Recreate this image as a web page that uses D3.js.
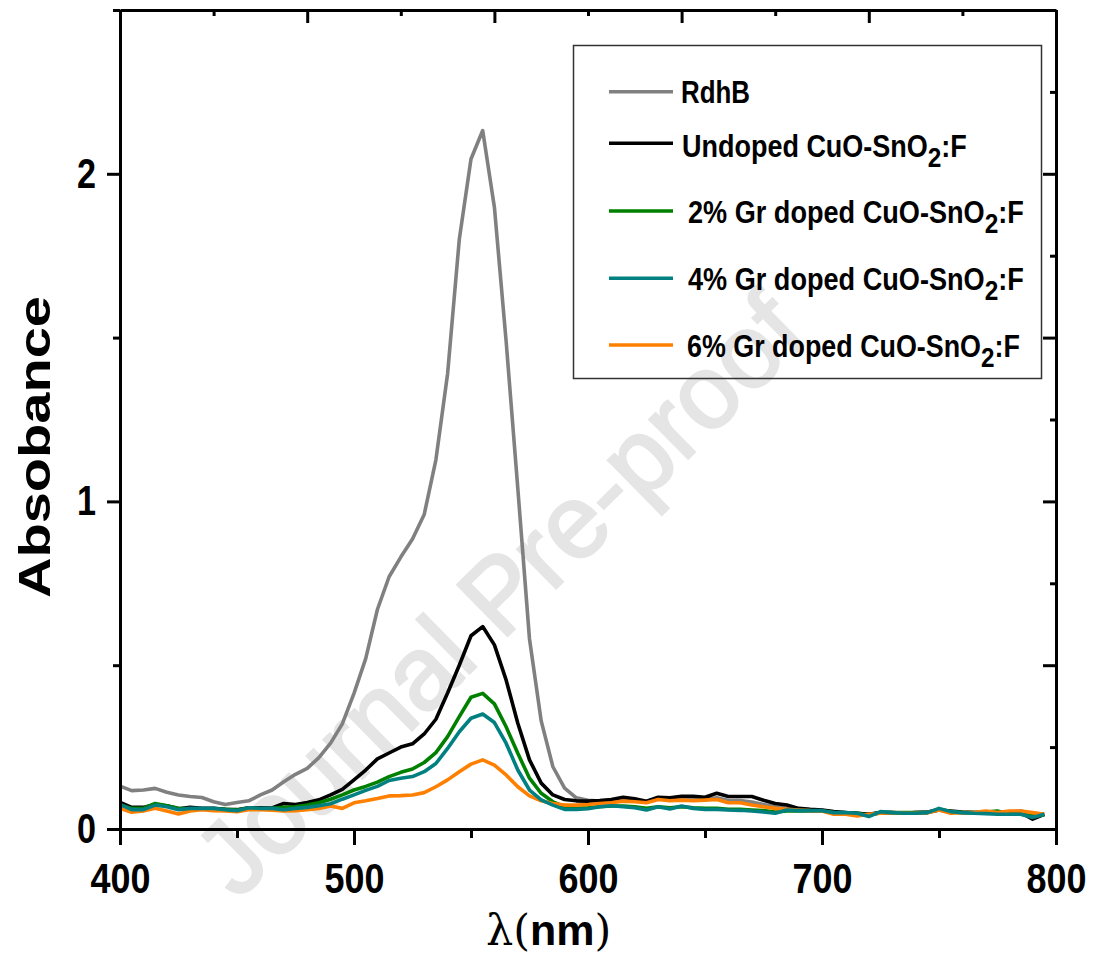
<!DOCTYPE html>
<html>
<head>
<meta charset="utf-8">
<script src="https://cdn.jsdelivr.net/npm/d3@7"></script>
<style>
  html, body { margin: 0; padding: 0; background: #fff; }
  svg { display: block; }
  text { font-family: "Liberation Sans", Arial, sans-serif; font-weight: bold; }
</style>
</head>
<body>
<svg id="chart" width="1099" height="961"></svg>
<script>
// Wavelength grid (nm)
const wavelengths = [
  400,405,410,415,420,425,430,435,440,445,450,455,460,465,470,475,480,485,490,495,
  500,505,510,515,520,525,530,535,540,545,550,555,560,565,570,575,580,585,590,595,
  600,605,610,615,620,625,630,635,640,645,650,655,660,665,670,675,680,685,690,695,
  700,705,710,715,720,725,730,735,740,745,750,755,760,765,770,775,780,785,790,795
];

// Absorbance of each sample
const rdhB = [
  0.131,0.117,0.119,0.124,0.112,0.104,0.099,0.096,0.083,0.075,0.081,0.086,0.104,0.119,0.144,0.167,0.185,0.218,0.262,0.321,
  0.414,0.52,0.67,0.77,0.83,0.885,0.96,1.127,1.39,1.80,2.045,2.132,1.898,1.49,1.04,0.58,0.33,0.19,0.125,0.095,
  0.088,0.085,0.088,0.092,0.088,0.083,0.092,0.09,0.093,0.093,0.09,0.095,0.087,0.087,0.082,0.075,0.068,0.063,0.06,0.058,
  0.057,0.05,0.05,0.048,0.045,0.05,0.05,0.048,0.05,0.05,0.058,0.052,0.05,0.05,0.05,0.048,0.052,0.055,0.045,0.045
];
const undoped = [
  0.081,0.066,0.066,0.075,0.071,0.062,0.066,0.063,0.063,0.06,0.059,0.065,0.065,0.064,0.078,0.075,0.081,0.089,0.104,0.121,
  0.15,0.18,0.214,0.232,0.25,0.26,0.29,0.335,0.415,0.5,0.59,0.618,0.562,0.455,0.323,0.211,0.14,0.104,0.09,0.086,
  0.085,0.087,0.09,0.097,0.092,0.085,0.097,0.095,0.1,0.1,0.097,0.109,0.099,0.099,0.099,0.088,0.078,0.073,0.063,0.06,
  0.058,0.053,0.05,0.048,0.045,0.05,0.05,0.048,0.05,0.052,0.058,0.055,0.052,0.05,0.05,0.048,0.05,0.05,0.03,0.045
];
const gr2 = [
  0.073,0.063,0.063,0.078,0.071,0.063,0.062,0.061,0.061,0.06,0.058,0.064,0.062,0.063,0.066,0.068,0.073,0.08,0.091,0.104,
  0.119,0.13,0.143,0.16,0.173,0.183,0.203,0.233,0.282,0.343,0.402,0.414,0.382,0.312,0.231,0.155,0.109,0.083,0.068,0.063,
  0.065,0.068,0.07,0.07,0.068,0.063,0.068,0.065,0.068,0.065,0.063,0.063,0.06,0.06,0.058,0.056,0.052,0.055,0.055,0.055,
  0.055,0.05,0.048,0.048,0.042,0.05,0.05,0.05,0.05,0.05,0.06,0.053,0.05,0.05,0.052,0.055,0.045,0.045,0.04,0.043
];
const gr4 = [
  0.075,0.059,0.059,0.073,0.068,0.059,0.063,0.063,0.063,0.059,0.056,0.065,0.063,0.063,0.059,0.063,0.066,0.071,0.077,0.091,
  0.104,0.118,0.13,0.148,0.155,0.16,0.175,0.2,0.246,0.297,0.338,0.351,0.325,0.262,0.18,0.119,0.089,0.073,0.06,0.06,
  0.062,0.068,0.071,0.068,0.065,0.058,0.068,0.061,0.07,0.063,0.06,0.06,0.058,0.057,0.055,0.052,0.048,0.058,0.056,0.056,
  0.056,0.05,0.05,0.048,0.038,0.053,0.05,0.048,0.048,0.05,0.063,0.053,0.05,0.048,0.047,0.045,0.045,0.045,0.035,0.045
];
const gr6 = [
  0.063,0.051,0.055,0.063,0.055,0.046,0.055,0.059,0.056,0.055,0.053,0.059,0.059,0.057,0.055,0.056,0.059,0.063,0.07,0.063,
  0.08,0.086,0.093,0.101,0.102,0.104,0.111,0.129,0.15,0.175,0.198,0.211,0.195,0.165,0.129,0.101,0.086,0.078,0.073,0.073,
  0.075,0.078,0.08,0.085,0.083,0.08,0.09,0.086,0.088,0.086,0.088,0.09,0.08,0.08,0.073,0.068,0.063,0.06,0.058,0.056,
  0.055,0.045,0.045,0.04,0.045,0.048,0.05,0.048,0.048,0.05,0.058,0.048,0.05,0.05,0.055,0.05,0.055,0.055,0.05,0.045
];

const seriesNames = ["RdhB", "Undoped CuO-SnO2:F", "2% Gr doped CuO-SnO2:F", "4% Gr doped CuO-SnO2:F", "6% Gr doped CuO-SnO2:F"];
const seriesColors = ["#808080", "#000000", "#008000", "#008080", "#ff8000"];
const seriesValues = [rdhB, undoped, gr2, gr4, gr6];

const xTicks = [400, 500, 600, 700, 800];
const xMinorTicks = [450, 550, 650, 750];
const yTicks = [0, 1, 2];
const yMinorTicks = [0.5, 1.5, 2.5];
const topTicks = [400, 480, 560, 640, 720, 800];
const topMinorTicks = [440, 520, 600, 680, 760];
const rightTicks = [0.5, 1, 1.5, 2];
const rightMinorTicks = [0.25, 0.75, 1.25, 1.75, 2.25];

const svg = d3.select("#chart");
const x = d3.scaleLinear().domain([400, 800]).range([120, 1056]);
const y = d3.scaleLinear().domain([0, 2.5]).range([829, 10]);

// Watermark
svg.append("text")
  .attr("transform", "translate(505,600) rotate(-44.5)")
  .attr("text-anchor", "middle")
  .attr("dominant-baseline", "middle")
  .style("font-weight", "normal")
  .style("font-size", "104px")
  .attr("fill", "#e5e5e5")
  .attr("stroke", "#e5e5e5")
  .attr("stroke-width", 2.5)
  .text("Journal Pre-proof");

// Spectra
const line = d3.line().x((d, i) => x(wavelengths[i])).y(d => y(d));
const drawOrder = [0, 1, 2, 4, 3];
drawOrder.forEach(k => {
  svg.append("path")
    .datum(seriesValues[k])
    .attr("fill", "none")
    .attr("stroke", seriesColors[k])
    .attr("stroke-width", 3.6)
    .attr("stroke-linejoin", "round")
    .attr("d", line);
});

function styleAxis(g) {
  g.selectAll("path.domain").attr("stroke", "#000").attr("stroke-width", 3);
  g.selectAll(".tick line").attr("stroke", "#000").attr("stroke-width", 3);
}

// Bottom axis
const gB = svg.append("g").attr("transform", `translate(0,${y(0)})`);
gB.call(d3.axisBottom(x).tickValues(xTicks).tickSize(16).tickSizeOuter(0).tickPadding(17))
  .call(styleAxis);
gB.selectAll("text").attr("fill", "#000").style("font-size", "43px")
  .attr("textLength", 60).attr("lengthAdjust", "spacingAndGlyphs")
  .attr("x", -30).attr("text-anchor", "start");
svg.append("g").attr("transform", `translate(0,${y(0)})`)
  .call(d3.axisBottom(x).tickValues(xMinorTicks).tickSize(9).tickFormat(""))
  .call(g => g.select(".domain").remove()).call(styleAxis);

// Left axis
const gL = svg.append("g").attr("transform", `translate(${x(400)},0)`);
gL.call(d3.axisLeft(y).tickValues(yTicks).tickSize(13).tickSizeOuter(0).tickPadding(11).tickFormat(d3.format("d")))
  .call(styleAxis);
gL.selectAll("text").attr("fill", "#000").style("font-size", "42px")
  .attr("textLength", 19).attr("lengthAdjust", "spacingAndGlyphs")
  .attr("text-anchor", "start").attr("x", -43);
svg.append("g").attr("transform", `translate(${x(400)},0)`)
  .call(d3.axisLeft(y).tickValues(yMinorTicks).tickSize(7).tickFormat(""))
  .call(g => g.select(".domain").remove()).call(styleAxis);

// Top axis (inward ticks)
svg.append("g").attr("transform", `translate(0,${y(2.5)})`)
  .call(d3.axisTop(x).tickValues(topTicks).tickSize(-13).tickSizeOuter(0).tickFormat(""))
  .call(styleAxis);
svg.append("g").attr("transform", `translate(0,${y(2.5)})`)
  .call(d3.axisTop(x).tickValues(topMinorTicks).tickSize(-6).tickFormat(""))
  .call(g => g.select(".domain").remove()).call(styleAxis);

// Right axis (inward ticks)
svg.append("g").attr("transform", `translate(${x(800)},0)`)
  .call(d3.axisRight(y).tickValues(rightTicks).tickSize(-13).tickSizeOuter(0).tickFormat(""))
  .call(styleAxis);
svg.append("g").attr("transform", `translate(${x(800)},0)`)
  .call(d3.axisRight(y).tickValues(rightMinorTicks).tickSize(-6).tickFormat(""))
  .call(g => g.select(".domain").remove()).call(styleAxis);

// Axis titles
svg.append("text")
  .attr("transform", "translate(50,598) rotate(-90)")
  .attr("fill", "#000")
  .style("font-size", "45px")
  .attr("textLength", 302).attr("lengthAdjust", "spacingAndGlyphs")
  .text("Absobance");

const xt = svg.append("text")
  .attr("x", 486).attr("y", 945)
  .attr("fill", "#000")
  .style("font-size", "43px");
xt.append("tspan").style("font-family", "'DejaVu Serif', serif").style("font-weight", "normal").text("λ(");
xt.append("tspan").text("nm");
xt.append("tspan").style("font-family", "'DejaVu Serif', serif").style("font-weight", "normal").text(")");

// Legend
svg.append("rect")
  .attr("x", 573.5).attr("y", 45.5).attr("width", 468).attr("height", 333)
  .attr("fill", "none").attr("stroke", "#333").attr("stroke-width", 1.5);

const legendLineY = [91.7, 143.3, 211, 278.3, 345];
const legendTextY = [102.5, 156.5, 223, 290, 356.5];
const legendTextX = [681, 682, 688, 688, 687];
const legendTextW = [69, 285, 336, 336, 333];

seriesNames.forEach((name, i) => {
  svg.append("line")
    .attr("x1", 609).attr("x2", 673)
    .attr("y1", legendLineY[i]).attr("y2", legendLineY[i])
    .attr("stroke", seriesColors[i]).attr("stroke-width", 3.6);
  const t = svg.append("text")
    .attr("fill", "#000")
    .style("font-size", "31px");
  const m = name.match(/^(.*O)2(:F)$/);
  if (m) {
    t.append("tspan").text(m[1]);
    t.append("tspan").attr("dy", 10).style("font-size", "28px").text("2");
    t.append("tspan").attr("dy", -10).text(m[2]);
  } else {
    t.text(name);
  }
  // condense horizontally to the label width
  const w = t.node().getBBox().width;
  t.attr("transform", `translate(${legendTextX[i]},${legendTextY[i]}) scale(${legendTextW[i] / w},1)`);
});
</script>
</body>
</html>
